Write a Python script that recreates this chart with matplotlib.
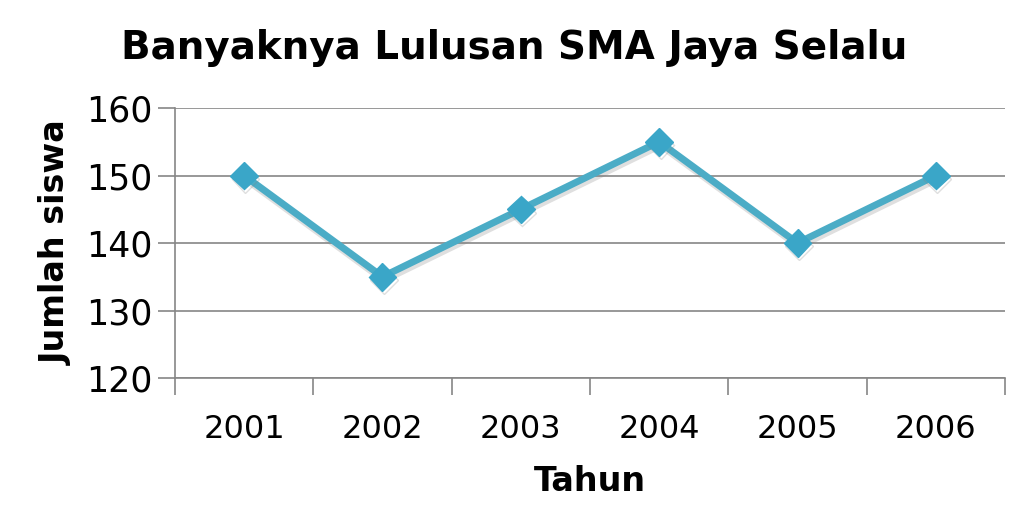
import matplotlib
matplotlib.use('Agg')
import matplotlib.pyplot as plt
import matplotlib.patheffects as pe

tahun = ['2001', '2002', '2003', '2004', '2005', '2006']
jumlah = [150, 135, 145, 155, 140, 150]
yticks = [120, 130, 140, 150, 160]

line_color = '#4BACC6'
grid_color = '#868686'

plt.rcParams['font.family'] = ['DejaVu Sans']

fig = plt.figure(figsize=(10.29, 5.27), dpi=100)
ax = fig.add_axes([0.170, 0.2827, 0.8067, 0.5123])

x = list(range(len(tahun)))
shadow = [pe.SimpleLineShadow(offset=(1, -2.5), shadow_color='#808080', alpha=0.25), pe.Normal()]
ax.plot(x, jumlah, color=line_color, linewidth=5, marker='D', markersize=14,
        markerfacecolor='#3AA6C8', markeredgecolor='#3AA6C8', path_effects=shadow, zorder=3)

ax.set_xlim(-0.5, len(tahun) - 0.5)
ax.set_ylim(120, 160)
ax.set_yticks(yticks)
ax.set_yticklabels([str(v) for v in yticks], fontsize=25)
ax.grid(axis='y', color=grid_color, linewidth=1.2)
ax.set_axisbelow(True)

# category ticks at boundaries, labels centered
ax.set_xticks([i - 0.5 for i in range(len(tahun) + 1)])
ax.set_xticklabels([])
ax.set_xticks(x, minor=True)
ax.set_xticklabels(tahun, minor=True, fontsize=23)
ax.tick_params(axis='x', which='major', length=12, width=1.2, color=grid_color)
ax.tick_params(axis='x', which='minor', length=0, pad=26)
ax.tick_params(axis='y', length=12, width=1.2, color=grid_color, pad=4)

for s in ['top', 'right']:
    ax.spines[s].set_visible(False)
for s in ['left', 'bottom']:
    ax.spines[s].set_color(grid_color)
    ax.spines[s].set_linewidth(1.2)

fig.text(0.5, 0.909, 'Banyaknya Lulusan SMA Jaya Selalu', fontsize=28, fontweight='bold',
         ha='center', va='center')
ax.set_xlabel('Tahun', fontsize=24, fontweight='bold', labelpad=14)
ax.set_ylabel('Jumlah siswa', fontsize=24, fontweight='bold', labelpad=10)

fig.savefig('out.png', dpi=100)
